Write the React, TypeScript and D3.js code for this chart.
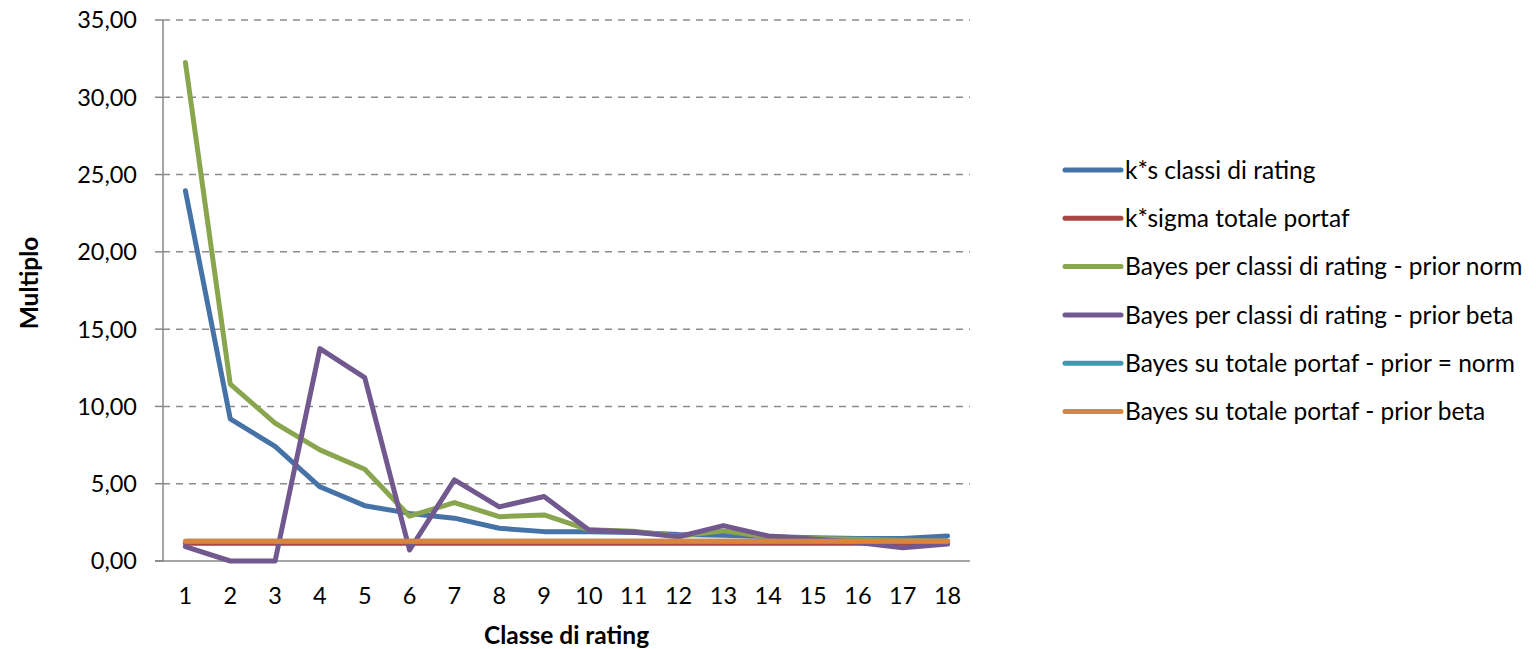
import React from "react";
import * as d3 from "d3";

// Rating classes on the x axis
const categories: number[] = d3.range(1, 19);

// Multiples per rating class, one array per series
const ksClassi = [23.95, 9.2, 7.41, 4.8, 3.58, 3.08, 2.77, 2.12, 1.9, 1.9, 1.85, 1.72, 1.66, 1.58, 1.5, 1.45, 1.45, 1.62];
const kSigmaTotale = [1.15, 1.15, 1.15, 1.15, 1.15, 1.15, 1.15, 1.15, 1.15, 1.15, 1.15, 1.15, 1.15, 1.15, 1.15, 1.15, 1.15, 1.15];
const bayesClassiNorm = [32.25, 11.45, 8.92, 7.19, 5.94, 2.9, 3.78, 2.87, 2.98, 2.02, 1.92, 1.6, 1.95, 1.55, 1.45, 1.4, 1.35, 1.3];
const bayesClassiBeta = [0.93, 0, 0, 13.74, 11.86, 0.71, 5.25, 3.5, 4.17, 2.0, 1.88, 1.57, 2.29, 1.62, 1.42, 1.2, 0.85, 1.1];
const bayesTotaleNorm = [1.27, 1.27, 1.27, 1.27, 1.27, 1.27, 1.27, 1.27, 1.27, 1.27, 1.27, 1.27, 1.27, 1.27, 1.27, 1.27, 1.27, 1.27];
const bayesTotaleBeta = [1.28, 1.28, 1.28, 1.28, 1.28, 1.28, 1.28, 1.28, 1.28, 1.28, 1.28, 1.28, 1.28, 1.28, 1.28, 1.28, 1.28, 1.28];

const seriesNames = [
  "k*s classi di rating",
  "k*sigma totale portaf",
  "Bayes per classi di rating - prior norm",
  "Bayes per classi di rating - prior beta",
  "Bayes su totale portaf - prior = norm",
  "Bayes su totale portaf - prior beta",
];
const seriesValues = [ksClassi, kSigmaTotale, bayesClassiNorm, bayesClassiBeta, bayesTotaleNorm, bayesTotaleBeta];
const seriesColors = ["#4572A7", "#AA4643", "#89A54E", "#71588F", "#4198AF", "#DB843D"];

const yTicks = [0, 5, 10, 15, 20, 25, 30, 35];

const W = 1536;
const H = 649;
const plot = { left: 163, right: 970, top: 20, bottom: 561 };
const FONT = "Lato, 'Open Sans', sans-serif";
const LINE_W = 5;

export default function App() {
  const x = d3
    .scaleBand<number>()
    .domain(categories)
    .range([plot.left, plot.right]);
  const y = d3.scaleLinear().domain([0, 35]).range([plot.bottom, plot.top]);
  const cx = (c: number) => (x(c) as number) + x.bandwidth() / 2;

  const line = d3
    .line<number>()
    .x((_, i) => cx(categories[i]))
    .y((v) => y(v));

  const fmt = (v: number) => v.toFixed(2).replace(".", ",");

  const legendX = 1065;
  const legendY0 = 170;
  const legendStep = 48.3;

  return (
    <svg
      width={W}
      height={H}
      style={{ position: "fixed", left: 0, top: 0, background: "#fff" }}
      fontFamily={FONT}
    >
      <rect x={0} y={0} width={W} height={H} fill="#fff" />

      {/* horizontal dashed gridlines */}
      {yTicks
        .filter((t) => t > 0)
        .map((t) => (
          <line
            key={`g${t}`}
            x1={plot.left}
            x2={plot.right}
            y1={y(t)}
            y2={y(t)}
            stroke="#8c8c8c"
            strokeWidth={1.5}
            strokeDasharray="7,6"
          />
        ))}

      {/* axes */}
      <line x1={plot.left} x2={plot.left} y1={plot.top} y2={plot.bottom} stroke="#868686" strokeWidth={1.5} />
      <line x1={plot.left - 8} x2={plot.right} y1={plot.bottom} y2={plot.bottom} stroke="#868686" strokeWidth={1.5} />
      {yTicks.map((t) => (
        <g key={`t${t}`}>
          <line x1={plot.left - 8} x2={plot.left} y1={y(t)} y2={y(t)} stroke="#868686" strokeWidth={1.5} />
          <text x={137} y={y(t)} dy="0.36em" textAnchor="end" fontSize={23.5} fill="#000">
            {fmt(t)}
          </text>
        </g>
      ))}
      {categories.map((c) => (
        <text key={`c${c}`} x={cx(c)} y={604} textAnchor="middle" fontSize={23.5} fill="#000">
          {c}
        </text>
      ))}

      {/* axis titles */}
      <text x={(plot.left + plot.right) / 2} y={644} textAnchor="middle" fontSize={24.5} fontWeight="bold" fill="#000">
        Classe di rating
      </text>
      <text
        transform={`translate(38, 283) rotate(-90)`}
        textAnchor="middle"
        fontSize={24.5}
        fontWeight="bold"
        fill="#000"
      >
        Multiplo
      </text>

      {/* series lines */}
      {seriesValues.map((vals, i) => (
        <path
          key={`s${i}`}
          d={line(vals) || ""}
          fill="none"
          stroke={seriesColors[i]}
          strokeWidth={LINE_W}
          strokeLinejoin="round"
          strokeLinecap="round"
        />
      ))}

      {/* legend */}
      {seriesNames.map((name, i) => {
        const ly = legendY0 + i * legendStep;
        return (
          <g key={`l${i}`}>
            <line
              x1={legendX}
              x2={legendX + 56}
              y1={ly}
              y2={ly}
              stroke={seriesColors[i]}
              strokeWidth={LINE_W}
              strokeLinecap="round"
            />
            <text x={legendX + 60} y={ly} dy="0.36em" fontSize={24.5} fill="#000">
              {name}
            </text>
          </g>
        );
      })}
    </svg>
  );
}
